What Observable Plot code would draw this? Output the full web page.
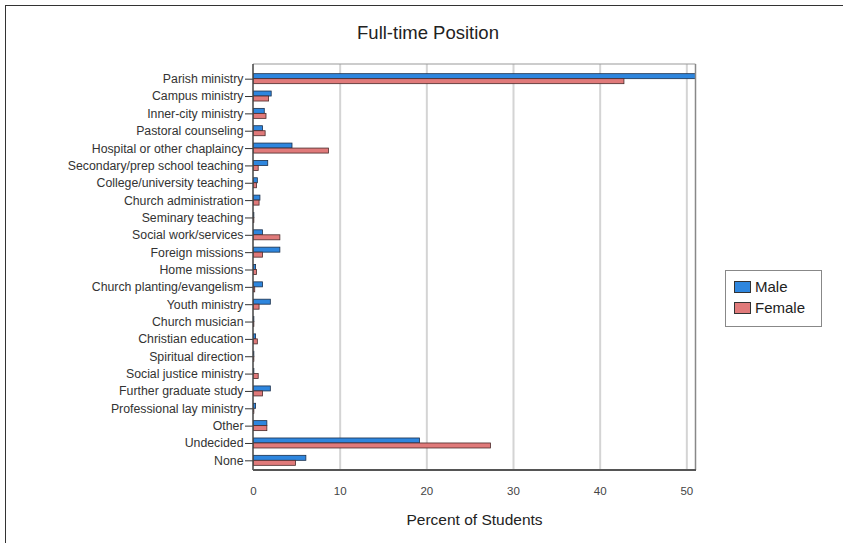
<!DOCTYPE html>
<html>
<head>
<meta charset="utf-8">
<script src="https://cdn.jsdelivr.net/npm/d3@7"></script>
<script src="https://cdn.jsdelivr.net/npm/@observablehq/plot@0.6"></script>
<style>
  html, body { margin: 0; padding: 0; background: #fff; }
  body { width: 843px; height: 543px; overflow: hidden; font-family: "Liberation Sans", Arial, sans-serif; }
  #wrap { position: relative; width: 843px; height: 543px; }
  #border { position: absolute; left: 5px; top: 5px; width: 900px; height: 600px; border: 1.5px solid #333; box-sizing: border-box; }
  #title { position: absolute; left: 228px; width: 400px; top: 22px; text-align: center; font-size: 18.5px; color: #222; }
  #legend { position: absolute; left: 725px; top: 270px; width: 97px; height: 57px; border: 1.5px solid #888; box-sizing: border-box; font-size: 15px; color: #222; }
  .li { position: absolute; left: 8px; display: flex; align-items: center; }
  .sw { width: 15px; height: 10px; border: 1px solid #333; margin-right: 4px; }
  #chart { position: absolute; left: 0; top: 0; }
</style>
</head>
<body>
<div id="wrap">
  <div id="border"></div>
  <div id="chart"></div>
  <div id="title">Full-time Position</div>
  <div id="legend"></div>
</div>
<script>
const categories = [
  "Parish ministry", "Campus ministry", "Inner-city ministry", "Pastoral counseling",
  "Hospital or other chaplaincy", "Secondary/prep school teaching", "College/university teaching",
  "Church administration", "Seminary teaching", "Social work/services", "Foreign missions",
  "Home missions", "Church planting/evangelism", "Youth ministry", "Church musician",
  "Christian education", "Spiritual direction", "Social justice ministry", "Further graduate study",
  "Professional lay ministry", "Other", "Undecided", "None"
];
const male   = [51.5, 2.1, 1.3, 1.1, 4.5, 1.7, 0.5, 0.8, 0.1, 1.1, 3.1, 0.3, 1.1, 2.0, 0.1, 0.3, 0.1, 0.1, 2.0, 0.3, 1.6, 19.2, 6.1];
const female = [42.8, 1.8, 1.5, 1.4, 8.7, 0.6, 0.4, 0.7, 0.1, 3.1, 1.1, 0.4, 0.2, 0.7, 0.1, 0.5, 0.1, 0.6, 1.1, 0.1, 1.6, 27.4, 4.9];
const xTicks = [0, 10, 20, 30, 40, 50];
const series = ["Male", "Female"];
const colors = ["#2e86de", "#e07a7a"];

const maleData = categories.map((c, i) => ({category: c, value: male[i]}));
const femaleData = categories.map((c, i) => ({category: c, value: female[i]}));

const step = 399 / 23;
const barH = 5;
const half = step / 2;

const chart = Plot.plot({
  width: 843,
  height: 543,
  marginLeft: 253,
  marginRight: 148,
  marginTop: 64,
  marginBottom: 73,
  style: {fontFamily: "Liberation Sans, Arial, sans-serif", background: "transparent"},
  x: {domain: [0, 51], ticks: xTicks, label: null},
  y: {domain: categories, range: [70, 469], paddingInner: 0, paddingOuter: 0, round: false, label: null},
  marks: [
    Plot.ruleX(xTicks.slice(1), {stroke: "#d4d4d4", strokeWidth: 2}),
    Plot.barX(maleData, {y: "category", x: "value", fill: colors[0], stroke: "#1b2f4a", strokeWidth: 0.8,
      insetTop: half - barH, insetBottom: half, clip: true}),
    Plot.barX(femaleData, {y: "category", x: "value", fill: colors[1], stroke: "#4a2a2a", strokeWidth: 0.8,
      insetTop: half, insetBottom: half - barH, clip: true}),
    Plot.axisY({tickSize: 8, tickPadding: 2, fontSize: 12.3, color: "#333", stroke: "#333"}),
    Plot.axisX({ticks: xTicks, tickSize: 0, tickPadding: 16, fontSize: 11.5, color: "#444", label: null}),
    Plot.text(["Percent of Students"], {frameAnchor: "bottom", dy: 54, fontSize: 15.5, fill: "#222"}),
  ]
});
// frame lines
const svg = d3.select(chart);
svg.append("line").attr("x1", 253).attr("x2", 695.5).attr("y1", 64).attr("y2", 64).attr("stroke", "#999").attr("stroke-width", 1);
svg.append("line").attr("x1", 695.5).attr("x2", 695.5).attr("y1", 64).attr("y2", 470).attr("stroke", "#888").attr("stroke-width", 1.5);
svg.append("line").attr("x1", 253).attr("x2", 253).attr("y1", 64).attr("y2", 470).attr("stroke", "#444").attr("stroke-width", 1.5);
svg.append("line").attr("x1", 253).attr("x2", 696).attr("y1", 470).attr("y2", 470).attr("stroke", "#555").attr("stroke-width", 2);
document.getElementById("chart").appendChild(chart);

const leg = document.getElementById("legend");
series.forEach((s, i) => {
  const d = document.createElement("div");
  d.className = "li";
  d.style.top = (7 + i * 21) + "px";
  d.innerHTML = `<span class="sw" style="background:${colors[i]}"></span><span>${s}</span>`;
  leg.appendChild(d);
});
</script>
</body>
</html>
